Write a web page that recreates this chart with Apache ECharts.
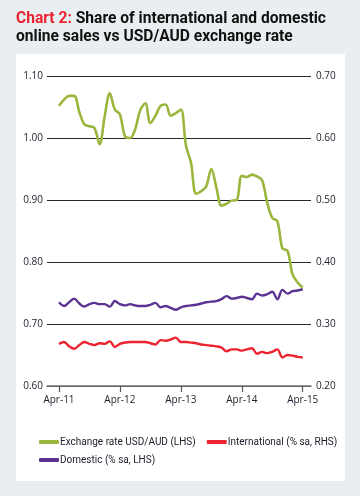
<!DOCTYPE html>
<html>
<head>
<meta charset="utf-8">
<script src="https://cdn.jsdelivr.net/npm/echarts@6/dist/echarts.min.js"></script>
<style>
  html, body { margin: 0; padding: 0; background: #e9eef1; }
  #panel { position: absolute; left: 16px; top: 54px; width: 329px; height: 427px; background: #ffffff; }
  #chart { position: absolute; left: 0; top: 0; width: 360px; height: 496px; }
</style>
</head>
<body>
<div id="panel"></div>
<div id="chart"></div>
<script>
// Month index 0 = Apr-11 ... 48 = Apr-15
const tickMonths = [0, 12, 24, 36, 48];
const tickLabels = ['Apr-11', 'Apr-12', 'Apr-13', 'Apr-14', 'Apr-15'];

const exchangeRate = [
  1.052, 1.062, 1.068, 1.068, 1.042, 1.022, 1.019, 1.016, 0.990, 1.035,
  1.072, 1.046, 1.038, 1.003, 1.000, 1.014, 1.045, 1.056, 1.024, 1.036,
  1.052, 1.054, 1.036, 1.040, 1.046, 0.988, 0.960, 0.910, 0.914, 0.922,
  0.950, 0.920, 0.891, 0.894, 0.899, 0.900, 0.939, 0.937, 0.941, 0.938,
  0.932, 0.896, 0.871, 0.866, 0.822, 0.818, 0.780, 0.767, 0.759
];
const international = [
  0.268, 0.271, 0.264, 0.260, 0.266, 0.271, 0.268, 0.266, 0.269, 0.268,
  0.272, 0.263, 0.268, 0.270, 0.271, 0.271, 0.271, 0.271, 0.269, 0.267,
  0.274, 0.273, 0.275, 0.278, 0.271, 0.271, 0.270, 0.269, 0.267, 0.266,
  0.265, 0.264, 0.262, 0.256, 0.259, 0.259, 0.257, 0.259, 0.261, 0.252,
  0.255, 0.253, 0.255, 0.259, 0.246, 0.250, 0.249, 0.247, 0.246
];
const domestic = [
  0.735, 0.729, 0.735, 0.741, 0.733, 0.728, 0.732, 0.734, 0.732, 0.732,
  0.728, 0.737, 0.732, 0.730, 0.732, 0.730, 0.729, 0.729, 0.731, 0.734,
  0.727, 0.729, 0.726, 0.723, 0.727, 0.729, 0.730, 0.731, 0.733, 0.735,
  0.736, 0.737, 0.740, 0.745, 0.741, 0.742, 0.744, 0.742, 0.740, 0.749,
  0.746, 0.748, 0.752, 0.740, 0.755, 0.749, 0.753, 0.754, 0.756
];

const toPairs = arr => arr.map((v, i) => [i, v]);

const GREEN = '#9ab63c';
const RED = '#ec2431';
const PURPLE = '#5b3493';
const TXT = '#1d1d2b';

const chart = echarts.init(document.getElementById('chart'), null, { renderer: 'canvas' });
chart.setOption({
  backgroundColor: 'transparent',
  animation: false,
  title: {
    left: 16, top: 10, padding: 0,
    text: '{r|Chart 2:} Share of international and domestic\nonline sales vs USD/AUD exchange rate',
    textStyle: {
      fontFamily: 'Roboto', fontWeight: 'bold', fontSize: 15.6, color: '#111', lineHeight: 18,
      rich: { r: { fontFamily: 'Roboto', fontWeight: 'bold', fontSize: 15.6, color: RED, lineHeight: 18 } }
    }
  },
  grid: { left: 47, right: 49, top: 76, bottom: 110, containLabel: false },
  legend: [
    {
      left: 39, top: 437, padding: 0, itemWidth: 20, itemHeight: 4, itemGap: 11,
      icon: 'roundRect',
      textStyle: { fontFamily: 'Roboto', fontSize: 10, color: TXT, padding: [0, 0, 0, -4] },
      data: ['Exchange rate USD/AUD (LHS)', 'International (% sa, RHS)']
    },
    {
      left: 39, top: 455, padding: 0, itemWidth: 20, itemHeight: 4,
      icon: 'roundRect',
      textStyle: { fontFamily: 'Roboto', fontSize: 10, color: TXT, padding: [0, 0, 0, -4] },
      data: ['Domestic (% sa, LHS)']
    }
  ],
  xAxis: {
    type: 'value',
    min: -2.36, max: 49.63,
    axisLine: { show: true, lineStyle: { color: '#777', width: 1.5 } },
    axisTick: { show: true, customValues: tickMonths, length: 6, lineStyle: { color: '#555', width: 1.2 } },
    axisLabel: {
      customValues: tickMonths, margin: 9,
      fontFamily: 'Open Sans', fontSize: 10, color: TXT,
      formatter: v => tickLabels[tickMonths.indexOf(Math.round(v))] || ''
    },
    splitLine: { show: false }
  },
  yAxis: [
    {
      type: 'value', min: 0.6, max: 1.1, interval: 0.1,
      axisLine: { show: false }, axisTick: { show: false },
      axisLabel: { margin: 4, fontFamily: 'Open Sans', fontSize: 10, color: TXT, formatter: v => v.toFixed(2) },
      splitLine: { show: true, lineStyle: { color: '#2a2a2a', width: 1 } }
    },
    {
      type: 'value', min: 0.2, max: 0.7, interval: 0.1, position: 'right',
      axisLine: { show: false }, axisTick: { show: false },
      axisLabel: { margin: 5, fontFamily: 'Open Sans', fontSize: 10, color: TXT, formatter: v => v.toFixed(2) },
      splitLine: { show: false }
    }
  ],
  series: [
    {
      name: 'Exchange rate USD/AUD (LHS)', type: 'line', yAxisIndex: 0,
      data: toPairs(exchangeRate), smooth: 0.35, showSymbol: false,
      lineStyle: { color: GREEN, width: 2.6 }, itemStyle: { color: GREEN }, z: 3
    },
    {
      name: 'International (% sa, RHS)', type: 'line', yAxisIndex: 1,
      data: toPairs(international), smooth: 0.35, showSymbol: false,
      lineStyle: { color: RED, width: 2.4 }, itemStyle: { color: RED }, z: 2
    },
    {
      name: 'Domestic (% sa, LHS)', type: 'line', yAxisIndex: 0,
      data: toPairs(domestic), smooth: 0.35, showSymbol: false,
      lineStyle: { color: PURPLE, width: 2.4 }, itemStyle: { color: PURPLE }, z: 2
    }
  ]
});
</script>
</body>
</html>
